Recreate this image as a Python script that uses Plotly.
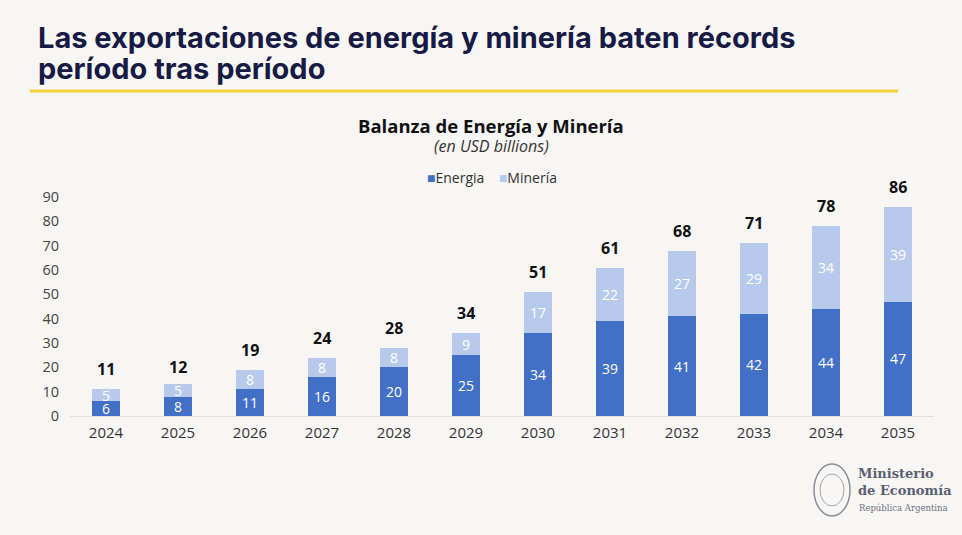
import plotly.graph_objects as go

years = ["2024", "2025", "2026", "2027", "2028", "2029",
         "2030", "2031", "2032", "2033", "2034", "2035"]
energia = [6, 8, 11, 16, 20, 25, 34, 39, 41, 42, 44, 47]
mineria = [5, 5, 8, 8, 8, 9, 17, 22, 27, 29, 34, 39]
totales = [11, 12, 19, 24, 28, 34, 51, 61, 68, 71, 78, 86]

BG = "#f8f6f4"
NAVY = "#171a44"
AZUL = "#4170c6"
CELESTE = "#b7caec"
FONT = "Open Sans"

# plot area in pixels (for placing the extra texts)
L, R, T, B = 70, 934, 197, 416


def px(x):
    return (x - L) / (R - L)


def py(y):
    return (B - y) / (B - T)


fig = go.Figure()

fig.add_trace(go.Bar(
    x=years, y=energia, name="Energia",
    marker=dict(color=AZUL, line=dict(width=0)),
    text=energia, textposition="inside", insidetextanchor="middle",
    textangle=0, textfont=dict(color="white", size=14, family=FONT),
    hoverinfo="x+y"
))
fig.add_trace(go.Bar(
    x=years, y=mineria, name="Minería",
    marker=dict(color=CELESTE, line=dict(width=0)),
    text=mineria, textposition="inside", insidetextanchor="middle",
    textangle=0, textfont=dict(color="white", size=14, family=FONT),
    hoverinfo="x+y"
))

fig.update_layout(
    barmode="stack",
    bargap=0.6,
    width=962, height=535,
    margin=dict(l=L, r=962 - R, t=T, b=535 - B),
    paper_bgcolor=BG, plot_bgcolor=BG,
    font=dict(family=FONT, color="#333333", size=14),
    uniformtext=dict(minsize=14, mode="show"),
    showlegend=False,
    xaxis=dict(type="category", range=[-0.5, len(years) - 0.5],
               showgrid=False, showline=True, linecolor="#e3e1df",
               linewidth=1, ticks="", tickfont=dict(size=15, color="#333333"),
               ticklabelstandoff=3),
    yaxis=dict(range=[0, 90], dtick=10, showgrid=False, zeroline=False,
               showline=False, ticks="", tickfont=dict(size=14.5, color="#444444"),
               ticklabelstandoff=10),
)

annotations = [
    dict(text="<b>Las exportaciones de energía y minería baten récords</b>",
         x=px(36), y=py(37), xref="paper", yref="paper", xanchor="left", yanchor="middle",
         showarrow=False, font=dict(family="Inter", size=29, color=NAVY, weight=800)),
    dict(text="<b>período tras período</b>",
         x=px(36), y=py(68), xref="paper", yref="paper", xanchor="left", yanchor="middle",
         showarrow=False, font=dict(family="Inter", size=29, color=NAVY, weight=800)),
    dict(text="<b>Balanza de Energía y Minería</b>",
         x=px(491), y=py(126), xref="paper", yref="paper", xanchor="center", yanchor="middle",
         showarrow=False, font=dict(size=18.5, color="#111111")),
    dict(text="<i>(en USD billions)</i>",
         x=px(491), y=py(146), xref="paper", yref="paper", xanchor="center", yanchor="middle",
         showarrow=False, font=dict(size=16, color="#333333")),
    dict(text=f"<span style='color:{AZUL}'>■</span>Energia    "
              f"<span style='color:{CELESTE}'>■</span>Minería",
         x=px(492), y=py(177), xref="paper", yref="paper", xanchor="center", yanchor="middle",
         showarrow=False, font=dict(size=14, color="#333333")),
    dict(text="<b>Ministerio<br>de Economía</b>",
         x=px(856), y=py(482), xref="paper", yref="paper", xanchor="left", yanchor="middle",
         align="left", showarrow=False,
         font=dict(family="DejaVu Serif", size=13, color="#5b6070")),
    dict(text="República Argentina",
         x=px(857), y=py(508), xref="paper", yref="paper", xanchor="left", yanchor="middle",
         align="left", showarrow=False,
         font=dict(family="DejaVu Serif", size=8.5, color="#6b7080")),
]

# totales arriba de cada barra (x = índice de categoría)
for i, tot in enumerate(totales):
    annotations.append(dict(
        x=i, y=tot, xref="x", yref="y", text=f"<b>{tot}</b>",
        showarrow=False, yanchor="bottom", yshift=7,
        font=dict(size=16, color="#111111")))

fig.update_layout(annotations=annotations)

# línea amarilla bajo el título y escudo simplificado
fig.update_layout(shapes=[
    dict(type="line", xref="paper", yref="paper",
         x0=px(30), x1=px(898), y0=py(91), y1=py(91),
         line=dict(color="#f2d43a", width=3)),
    dict(type="circle", xref="paper", yref="paper",
         x0=px(814), x1=px(850), y0=py(516), y1=py(464),
         line=dict(color="#8a8e9a", width=1.5)),
    dict(type="circle", xref="paper", yref="paper",
         x0=px(820), x1=px(844), y0=py(506), y1=py(474),
         line=dict(color="#a0a4ae", width=1)),
])

fig.write_html("out.html", config={"displayModeBar": False},
               post_script="document.body.style.margin='0';")
